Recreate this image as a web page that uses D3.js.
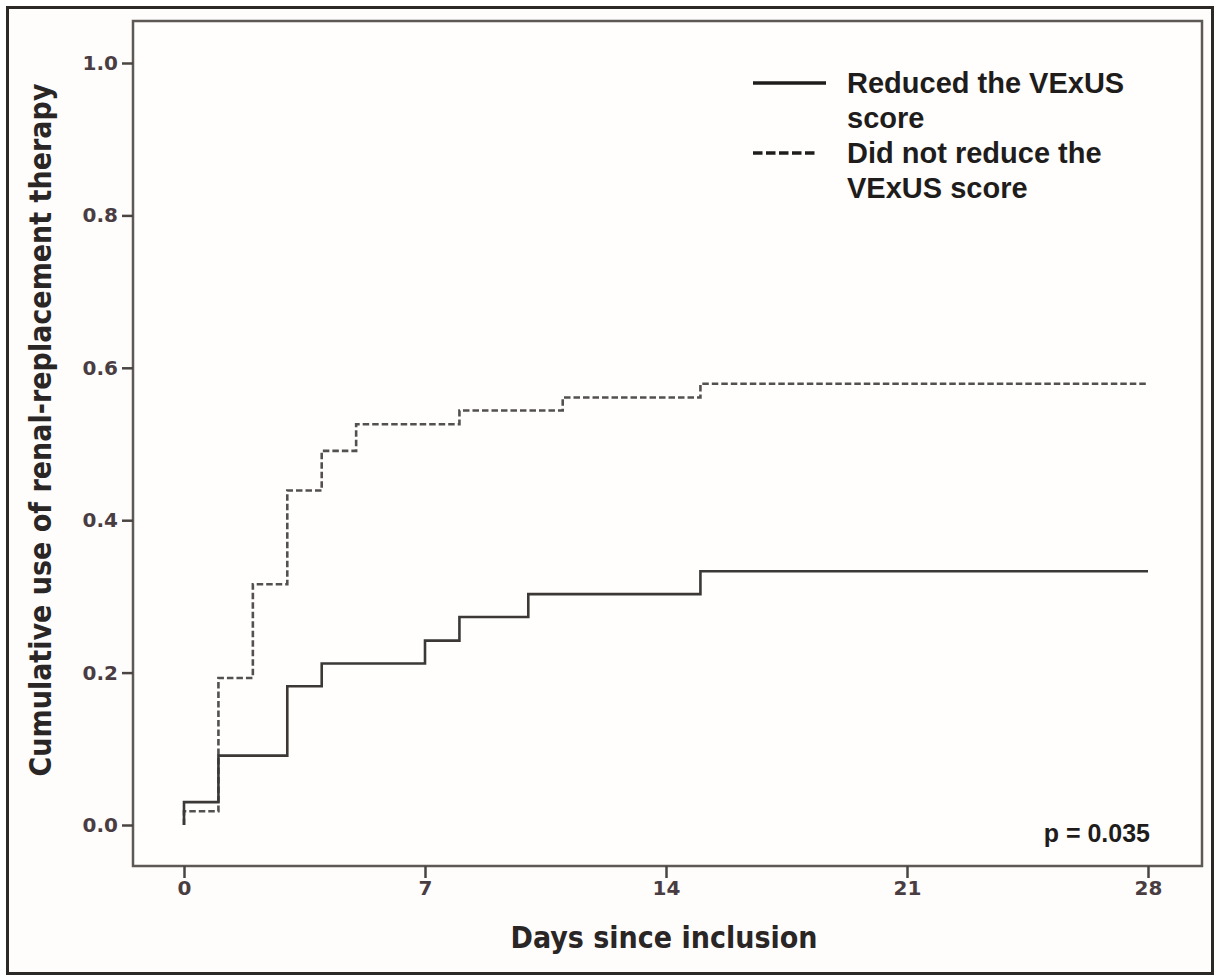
<!DOCTYPE html>
<html lang="en">
<head>
<meta charset="UTF-8">
<title>Cumulative use of renal-replacement therapy</title>
<script src="https://d3js.org/d3.v7.min.js"></script>
<style>
  body { margin: 0; background: #fff; }
</style>
</head>
<body>
<script>
// step data (value holds from that day on)
const reducedDays = [0, 0, 1, 3, 4, 7, 8, 10, 15, 28];
const reducedValues = [0, 0.030, 0.091, 0.182, 0.212, 0.242, 0.273, 0.303, 0.333, 0.333];

const notReducedDays = [0, 0, 1, 2, 3, 4, 5, 8, 11, 15, 28];
const notReducedValues = [0, 0.018, 0.193, 0.316, 0.439, 0.491, 0.526, 0.544, 0.561, 0.579, 0.579];

const xTicks = [0, 7, 14, 21, 28];
const yTicks = [0, 0.2, 0.4, 0.6, 0.8, 1.0];

const legendLabels = [
  ['Reduced the VExUS', 'score'],
  ['Did not reduce the', 'VExUS score']
];
const pText = 'p = 0.035';

const width = 1216, height = 976;

const svg = d3.select('body').append('svg')
  .attr('width', width)
  .attr('height', height);

// outer frame
svg.append('rect')
  .attr('x', 7.5).attr('y', 7.5)
  .attr('width', 1205).attr('height', 966)
  .attr('fill', '#fefdfc')
  .attr('stroke', '#2b2826')
  .attr('stroke-width', 3);

// scales
const x = d3.scaleLinear().domain([0, 28]).range([184, 1148]);
const y = d3.scaleLinear().domain([0, 1]).range([825, 63]);

// plot box
const box = { left: 133, top: 21, right: 1202, bottom: 866 };
svg.append('rect')
  .attr('x', box.left).attr('y', box.top)
  .attr('width', box.right - box.left).attr('height', box.bottom - box.top)
  .attr('fill', '#fffefd')
  .attr('stroke', '#5e5955')
  .attr('stroke-width', 2.5);

// axes
const tickFont = '"DejaVu Sans", Verdana, sans-serif';

const yAxis = svg.append('g')
  .attr('transform', `translate(${box.left},0)`)
  .call(d3.axisLeft(y).tickValues(yTicks).tickFormat(d3.format('.1f')).tickSize(11).tickPadding(4));
const xAxis = svg.append('g')
  .attr('transform', `translate(0,${box.bottom})`)
  .call(d3.axisBottom(x).tickValues(xTicks).tickFormat(d3.format('d')).tickSize(12).tickPadding(3));

[xAxis, yAxis].forEach(g => {
  g.select('.domain').remove();
  g.selectAll('.tick line').attr('stroke', '#4a4442').attr('stroke-width', 2.5);
  g.selectAll('.tick text')
    .attr('fill', '#4a3d42')
    .style('font-family', tickFont)
    .style('font-size', '20px')
    .style('font-weight', 'bold');
});

// axis titles
const titleFont = '"DejaVu Sans Condensed", "DejaVu Sans", sans-serif';
svg.append('text')
  .attr('x', 664).attr('y', 948)
  .attr('text-anchor', 'middle')
  .attr('fill', '#2a2626')
  .style('font-family', titleFont)
  .style('font-size', '30px')
  .style('font-weight', 'bold')
  .text('Days since inclusion');

svg.append('text')
  .attr('transform', 'translate(51,430) rotate(-90)')
  .attr('text-anchor', 'middle')
  .attr('fill', '#2a2626')
  .style('font-family', titleFont)
  .style('font-size', '30px')
  .style('font-weight', 'bold')
  .text('Cumulative use of renal-replacement therapy');

// curves
const line = d3.line()
  .x(d => x(d[0]))
  .y(d => y(d[1]))
  .curve(d3.curveStepAfter);

svg.append('path')
  .datum(notReducedDays.map((d, i) => [d, notReducedValues[i]]))
  .attr('fill', 'none')
  .attr('stroke', '#555050')
  .attr('stroke-width', 2.6)
  .attr('stroke-dasharray', '6.5,3')
  .attr('d', line);

svg.append('path')
  .datum(reducedDays.map((d, i) => [d, reducedValues[i]]))
  .attr('fill', 'none')
  .attr('stroke', '#3b3836')
  .attr('stroke-width', 2.6)
  .attr('d', line);

// legend
const legendFont = '"Liberation Sans", Arial, sans-serif';
const legend = svg.append('g');
const legendRows = [
  { y: 83, dash: null },
  { y: 153, dash: '9.5,3.5' }
];
legendRows.forEach((r, i) => {
  legend.append('line')
    .attr('x1', 753).attr('x2', i === 0 ? 826 : 818)
    .attr('y1', r.y).attr('y2', r.y)
    .attr('stroke', '#1f1d1c')
    .attr('stroke-width', 3.5)
    .attr('stroke-dasharray', r.dash);
  legendLabels[i].forEach((t, j) => {
    legend.append('text')
      .attr('x', 847)
      .attr('y', r.y + 10 + j * 35)
      .attr('fill', '#1f1d1c')
      .style('font-family', legendFont)
      .style('font-size', '29px')
      .style('font-weight', 'bold')
      .text(t);
  });
});

// p value
svg.append('text')
  .attr('x', 1150).attr('y', 842)
  .attr('text-anchor', 'end')
  .attr('fill', '#1f1d1c')
  .style('font-family', legendFont)
  .style('font-size', '25px')
  .style('font-weight', 'bold')
  .text(pText);
</script>
</body>
</html>
